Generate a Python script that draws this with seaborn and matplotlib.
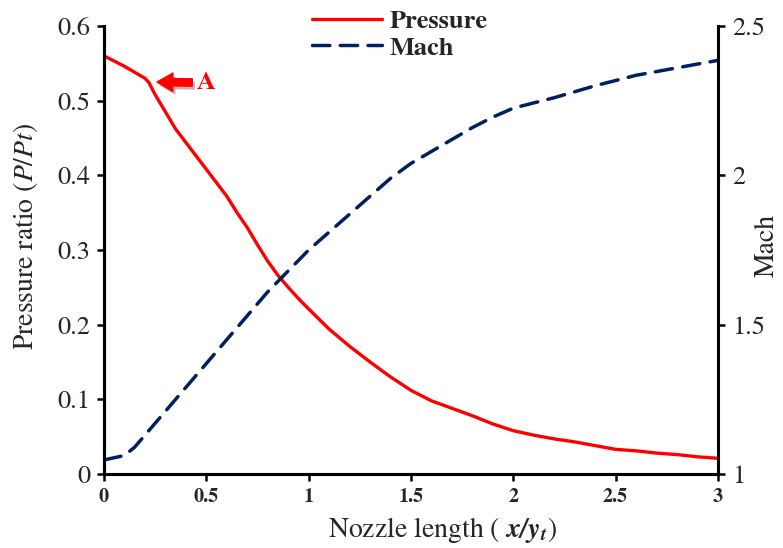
import matplotlib
matplotlib.use("Agg")
import matplotlib.pyplot as plt
import seaborn as sns
import pandas as pd
import matplotlib.patheffects as pe

sns.set_style("ticks")
plt.rcParams['font.family'] = ['STIXGeneral', 'DejaVu Serif']
plt.rcParams['mathtext.fontset'] = 'stix'

x_p = [0.0, 0.05, 0.1, 0.15, 0.2, 0.22, 0.25, 0.3, 0.35, 0.4, 0.45, 0.5, 0.55, 0.6, 0.65, 0.7,
       0.75, 0.8, 0.85, 0.9, 0.95, 1.0, 1.1, 1.2, 1.3, 1.4, 1.5, 1.6, 1.7, 1.8, 1.9, 2.0, 2.1,
       2.2, 2.3, 2.4, 2.5, 2.6, 2.7, 2.8, 2.9, 3.0]
pressure = [0.56, 0.553, 0.546, 0.538, 0.53, 0.524, 0.508, 0.485, 0.462, 0.444, 0.426, 0.408,
            0.39, 0.372, 0.35, 0.33, 0.307, 0.285, 0.266, 0.25, 0.235, 0.221, 0.194, 0.171,
            0.15, 0.13, 0.112, 0.098, 0.088, 0.078, 0.067, 0.058, 0.052, 0.047, 0.043, 0.038,
            0.033, 0.031, 0.028, 0.026, 0.023, 0.021]
x_m = [0.0, 0.1, 0.15, 0.2, 0.3, 0.4, 0.5, 0.6, 0.7, 0.8, 0.9, 1.0, 1.1, 1.2, 1.3, 1.4, 1.5,
       1.6, 1.7, 1.8, 1.9, 2.0, 2.2, 2.4, 2.6, 2.8, 3.0]
mach = [1.047, 1.062, 1.09, 1.13, 1.21, 1.29, 1.37, 1.45, 1.53, 1.61, 1.68, 1.75, 1.81, 1.87,
        1.93, 1.99, 2.04, 2.08, 2.12, 2.16, 2.195, 2.225, 2.26, 2.30, 2.335, 2.36, 2.385]

x_ticks = [0, 0.5, 1, 1.5, 2, 2.5, 3]
x_tick_labels = ["0", "0.5", "1", "1.5", "2", "2.5", "3"]
p_ticks = [0, 0.1, 0.2, 0.3, 0.4, 0.5, 0.6]
p_tick_labels = ["0", "0.1", "0.2", "0.3", "0.4", "0.5", "0.6"]
m_ticks = [1, 1.5, 2, 2.5]
m_tick_labels = ["1", "1.5", "2", "2.5"]

dfp = pd.DataFrame({"x": x_p, "y": pressure})
dfm = pd.DataFrame({"x": x_m, "y": mach})

fig = plt.figure(figsize=(7.83, 5.48), dpi=100)
ax = fig.add_axes([104 / 783, (548 - 474) / 548, 614 / 783, 448 / 548])
ax2 = ax.twinx()

sns.lineplot(data=dfp, x="x", y="y", ax=ax, color="#ff0000", lw=2.4, label="Pressure", legend=False)
sns.lineplot(data=dfm, x="x", y="y", ax=ax2, color="#002060", lw=2.5, label="Mach", legend=False)
ax2.lines[0].set_dashes([5, 3])
ax2.lines[0].set_dash_capstyle("round")

ax.set_xlim(0, 3)
ax.set_ylim(0, 0.6)
ax2.set_ylim(1, 2.5)
ax.set_xticks(x_ticks)
ax.set_xticklabels(x_tick_labels, fontweight="bold", fontsize=14.5)
ax.set_yticks(p_ticks)
ax.set_yticklabels(p_tick_labels, fontsize=19)
ax2.set_yticks(m_ticks)
ax2.set_yticklabels(m_tick_labels, fontsize=19)

for a in (ax, ax2):
    a.tick_params(direction="out", length=5, width=1.8, color="black", pad=5)
    for s in a.spines.values():
        s.set_linewidth(2.2)
        s.set_color("black")
    a.spines["top"].set_visible(False)
ax.spines["right"].set_visible(False)

ax.set_xlabel(r"Nozzle length ( $\mathbfit{x/y_t}$)", fontsize=20)
ax.xaxis.set_label_coords(0.551, -0.091)
ax.set_ylabel(r"Pressure ratio ($\mathit{P/Pt}$)", fontsize=20)
ax.yaxis.set_label_coords(-0.105, 0.53)
ax2.set_ylabel("Mach", fontsize=20)
ax2.yaxis.set_label_coords(1.06, 0.51)

ax.annotate("A", xy=(0.259, 0.525), xytext=(0.454, 0.524), textcoords="data",
            color="#ff0000", fontsize=19, fontweight="bold", va="center", ha="left",
            arrowprops=dict(arrowstyle="simple,head_width=0.7,head_length=0.6,tail_width=0.28",
                            color="#ff0000", shrinkA=1, shrinkB=0,
                            path_effects=[pe.SimplePatchShadow(offset=(2, -2.5), alpha=0.3), pe.Normal()]))

h1, l1 = ax.get_legend_handles_labels()
h2, l2 = ax2.get_legend_handles_labels()
leg = ax2.legend(h1 + h2, l1 + l2, loc="upper left", bbox_to_anchor=(0.339, 1.037),
                 frameon=False, handlelength=2.65, prop={"weight": "bold", "size": 19},
                 labelspacing=0.12, borderpad=0.0, borderaxespad=0.0, handletextpad=0.3)

fig.savefig("out.png", dpi=100)
